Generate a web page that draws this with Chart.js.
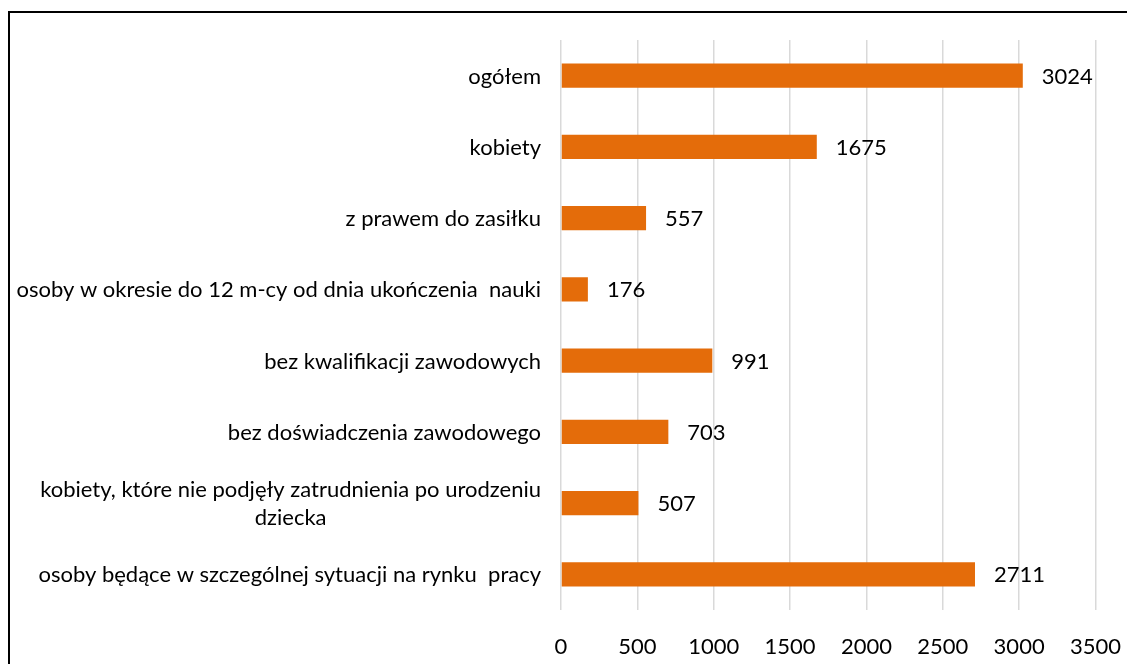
<!DOCTYPE html>
<html>
<head>
<meta charset="utf-8">
<script src="https://cdn.jsdelivr.net/npm/chart.js@4.4.0/dist/chart.umd.min.js"></script>
<style>
  html, body { margin: 0; padding: 0; background: #fff; overflow: hidden; }
  #frame { position: absolute; left: 8px; top: 11px; width: 1200px; height: 700px;
           border-left: 2px solid #000; border-top: 2px solid #000; }
  #wrap { position: absolute; left: 10px; top: 13px; width: 1135px; height: 651px; }
</style>
</head>
<body>
<div id="frame"></div>
<div id="wrap"><canvas id="c"></canvas></div>
<script>
const categories = [
  'ogółem',
  'kobiety',
  'z prawem do zasiłku',
  'osoby w okresie do 12 m-cy od dnia ukończenia  nauki',
  'bez kwalifikacji zawodowych',
  'bez doświadczenia zawodowego',
  ['kobiety, które nie podjęły zatrudnienia po urodzeniu', 'dziecka'],
  'osoby będące w szczególnej sytuacji na rynku  pracy'
];
const values = [3024, 1675, 557, 176, 991, 703, 507, 2711];
const xTicks = [0, 500, 1000, 1500, 2000, 2500, 3000, 3500];

const FAMILY = 'Lato, "Open Sans", sans-serif';
const SIZE = 22;
const FONT = SIZE + 'px ' + FAMILY;

const labelPlugin = {
  id: 'labels',
  afterDatasetsDraw(chart) {
    const ctx = chart.ctx;
    const meta = chart.getDatasetMeta(0);
    ctx.save();
    ctx.font = FONT;
    ctx.fillStyle = '#000';
    ctx.textBaseline = 'middle';
    ctx.textAlign = 'left';
    meta.data.forEach((bar, i) => {
      ctx.fillText(String(values[i]), bar.x + 19, bar.y + 1);
    });
    const ys = chart.scales.y;
    const xRight = ys.right - 20;
    categories.forEach((lab, i) => {
      const yc = ys.getPixelForValue(i) + 1;
      const lines = Array.isArray(lab) ? lab : [lab];
      const lh = 28;
      const w = Math.max(...lines.map(l => ctx.measureText(l).width));
      lines.forEach((l, k) => {
        const y = yc + (k - (lines.length - 1) / 2) * lh;
        if (lines.length === 1) {
          ctx.textAlign = 'right';
          ctx.fillText(l, xRight, y);
        } else {
          ctx.textAlign = 'center';
          ctx.fillText(l, xRight - w / 2, y);
        }
      });
    });
    ctx.restore();
  }
};

new Chart(document.getElementById('c'), {
  type: 'bar',
  data: {
    labels: categories,
    datasets: [{
      data: values,
      backgroundColor: '#E46C0A',
      borderWidth: 0,
      barPercentage: 0.68,
      categoryPercentage: 0.5
    }]
  },
  plugins: [labelPlugin],
  options: {
    indexAxis: 'y',
    responsive: true,
    maintainAspectRatio: false,
    animation: false,
    layout: { padding: { top: 27, right: 0, bottom: 0, left: 0 } },
    plugins: { legend: { display: false }, tooltip: { enabled: false } },
    scales: {
      x: {
        min: 0, max: 3500,
        afterBuildTicks(s) { s.ticks = xTicks.map(v => ({ value: v })); },
        afterFit(s) { s.height = 54; },
        grid: { color: '#D9D9D9', lineWidth: 1.5, drawTicks: false },
        border: { display: false },
        ticks: {
          padding: 24, color: '#000', font: { family: FAMILY, size: SIZE },
          callback: (v) => String(v)
        }
      },
      y: {
        afterFit(s) { s.width = 551; },
        grid: { display: false },
        border: { display: false },
        ticks: { display: false }
      }
    }
  }
});
</script>
</body>
</html>
